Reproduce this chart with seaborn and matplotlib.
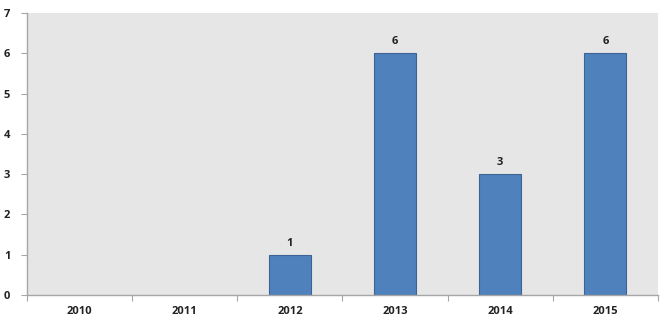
import matplotlib
matplotlib.use("Agg")
import matplotlib.pyplot as plt
import seaborn as sns
import numpy as np
import pandas as pd

years = ["2010", "2011", "2012", "2013", "2014", "2015"]
counts = [0, 0, 1, 6, 3, 6]

sns.set_theme(style="white")
plt.rcParams['font.family'] = ['Open Sans', 'DejaVu Sans']

df = pd.DataFrame({"year": years, "count": counts})

fig = plt.figure(figsize=(6.71, 3.24), dpi=100)
ax = fig.add_axes([27/671, 29/324, (658-27)/671, (295-13)/324])
ax.set_facecolor("#E6E6E6")

sns.barplot(data=df, x="year", y="count", color="#4F81BD", saturation=1,
            width=0.4, edgecolor="#3B6494", linewidth=0.8, ax=ax)
for p in ax.patches:
    if p.get_height() == 0:
        p.set_linewidth(0)

for i, v in enumerate(counts):
    if v > 0:
        ax.text(i, v + 0.15, str(v), ha="center", va="bottom",
                fontsize=8, fontweight="bold", color="#222222")

ax.set_xlim(-0.5, len(years) - 0.5)
ax.set_ylim(0, 7)
ax.set_yticks(range(0, 8))
ax.set_xlabel("")
ax.set_ylabel("")
ax.set_xticks(np.arange(-0.5, len(years), 1.0), minor=True)
ax.tick_params(axis="x", which="major", length=0, pad=8, labelsize=8, colors="#222222")
ax.tick_params(axis="x", which="minor", length=4, color="#A6A6A6", width=0.8, direction="out", bottom=True)
ax.tick_params(axis="y", which="major", length=4, color="#A6A6A6", width=0.8, direction="out",
               left=True, labelsize=8, colors="#222222", pad=8)
for lbl in ax.get_xticklabels() + ax.get_yticklabels():
    lbl.set_fontweight("bold")
for s in ["top", "right"]:
    ax.spines[s].set_visible(False)
for s in ["left", "bottom"]:
    ax.spines[s].set_color("#A6A6A6")
    ax.spines[s].set_linewidth(1.0)

fig.savefig("out.png", dpi=100, facecolor="white")
